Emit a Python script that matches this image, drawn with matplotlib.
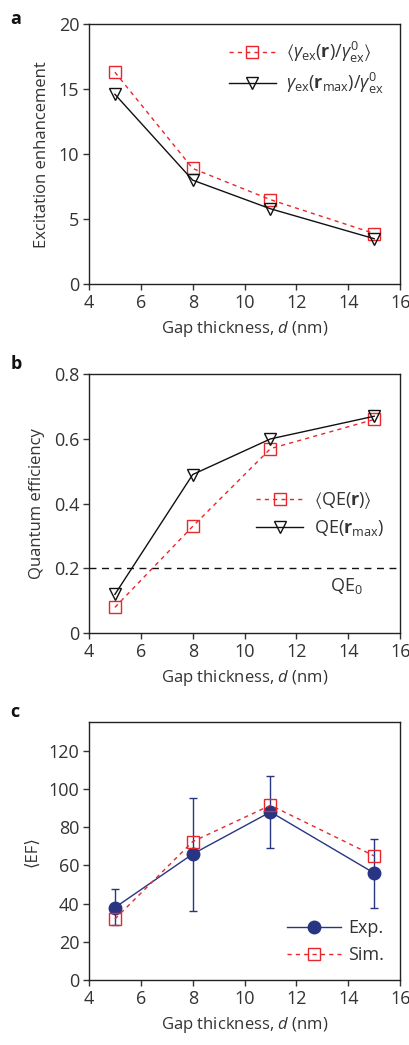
import numpy as np
import matplotlib
matplotlib.use('Agg')
import matplotlib.pyplot as plt
from matplotlib.lines import Line2D

plt.rcParams['font.family'] = ['Open Sans', 'DejaVu Sans']
plt.rcParams['mathtext.fontset'] = 'custom'
plt.rcParams['mathtext.rm'] = 'Open Sans'
plt.rcParams['mathtext.it'] = 'Open Sans:italic'
plt.rcParams['mathtext.bf'] = 'Open Sans:bold'
plt.rcParams['mathtext.sf'] = 'Open Sans'
plt.rcParams['mathtext.fallback'] = 'stixsans'

# data
gap = [5, 8, 11, 15]

exc_mean = [16.3, 8.9, 6.5, 3.9]
exc_max = [14.6, 8.0, 5.8, 3.5]

qe_mean = [0.08, 0.33, 0.57, 0.66]
qe_max = [0.12, 0.49, 0.60, 0.67]
qe0 = 0.2

ef_exp = [38, 66, 88, 56]
ef_lo = [29, 36, 69, 38]
ef_hi = [47.5, 95.5, 107, 74]
ef_sim = [32, 72.5, 91.5, 65]

red = '#e8262b'
blue = '#283583'
txt = '#333333'
blk = '#111111'
xlabel = 'Gap thickness, $\\mathit{d}$ (nm)'
lab_fs = 12
tick_fs = 13
leg_fs = 13

fig = plt.figure(figsize=(4.1, 10.45), dpi=100)
left, width = 0.217, 0.759
ax_a = fig.add_axes([left, 0.728, width, 0.249])
ax_b = fig.add_axes([left, 0.394, width, 0.248])
ax_c = fig.add_axes([left, 0.062, width, 0.247])


def style(ax):
    ax.set_xlim(4, 16)
    ax.set_xticks(np.arange(4, 17, 2))
    ax.tick_params(axis='both', direction='out', length=4, width=1, labelsize=tick_fs,
                   colors=txt, top=False, right=False, pad=3)
    for s in ax.spines.values():
        s.set_linewidth(1)
        s.set_color('#222222')
    ax.set_xlabel(xlabel, fontsize=lab_fs, color=txt, labelpad=5)


# panel a
ax_a.plot(gap, exc_mean, linestyle=(0, (3, 3)), color=red, lw=1, marker='s', ms=9, mfc='none', mec=red, mew=1,
          label='$\\langle$$\\gamma_{\\rm ex}$($\\mathbf{r}$)/$\\gamma^0_{\\rm ex}$$\\rangle$')
ax_a.plot(gap, exc_max, '-', color=blk, lw=1, marker='v', ms=9, mfc='none', mec=blk, mew=1,
          label='$\\gamma_{\\rm ex}$($\\mathbf{r}_{\\rm max}$)/$\\gamma^0_{\\rm ex}$')
ax_a.set_ylim(0, 20)
ax_a.set_yticks([0, 5, 10, 15, 20])
style(ax_a)
ax_a.set_ylabel('Excitation enhancement', fontsize=lab_fs, color=txt, labelpad=6)
ax_a.legend(loc='upper right', frameon=False, fontsize=leg_fs, handlelength=2.6,
            borderaxespad=0.5, labelspacing=0.3, handletextpad=0.6, labelcolor=txt)

# panel b
ax_b.axhline(qe0, color=blk, lw=1, ls=(0, (5, 4)))
ax_b.text(13.3, 0.13, 'QE$_0$', fontsize=leg_fs, color=txt)
ax_b.plot(gap, qe_mean, linestyle=(0, (3, 3)), color=red, lw=1, marker='s', ms=9, mfc='none', mec=red,
          mew=1, label='$\\langle$QE($\\mathbf{r}$)$\\rangle$')
ax_b.plot(gap, qe_max, '-', color=blk, lw=1, marker='v', ms=9, mfc='none', mec=blk, mew=1,
          label='QE($\\mathbf{r}_{\\rm max}$)')
ax_b.set_ylim(0, 0.8)
ax_b.set_yticks([0, 0.2, 0.4, 0.6, 0.8])
ax_b.set_yticklabels(['0', '0.2', '0.4', '0.6', '0.8'])
style(ax_b)
ax_b.set_ylabel('Quantum efficiency', fontsize=lab_fs, color=txt, labelpad=6)
ax_b.legend(loc='center right', bbox_to_anchor=(1.0, 0.46), frameon=False, fontsize=leg_fs,
            handlelength=2.6, labelspacing=0.4, handletextpad=0.6, labelcolor=txt)

# panel c
err = [np.array(ef_exp) - np.array(ef_lo), np.array(ef_hi) - np.array(ef_exp)]
ax_c.errorbar(gap, ef_exp, yerr=err, fmt='none', ecolor=blue, capsize=3, elinewidth=1, capthick=1,
              zorder=1)
ax_c.plot(gap, ef_exp, '-', color=blue, lw=1, marker='o', ms=9, mfc=blue, mec=blue, zorder=2)
ax_c.plot(gap, ef_sim, linestyle=(0, (3, 3)), color=red, lw=1, marker='s', ms=9, mfc='none', mec=red,
          mew=1, zorder=3)
ax_c.set_ylim(0, 135)
ax_c.set_yticks(np.arange(0, 121, 20))
style(ax_c)
ax_c.set_ylabel('⟨EF⟩', fontsize=lab_fs, color=txt, labelpad=6)
h_exp = Line2D([], [], color=blue, lw=1, marker='o', ms=9, mfc=blue, mec=blue)
h_sim = Line2D([], [], color=red, lw=1, linestyle=(0, (3, 3)), marker='s', ms=9, mfc='none', mec=red)
ax_c.legend([h_exp, h_sim], ['Exp.', 'Sim.'], loc='lower right', frameon=False, fontsize=leg_fs,
            handlelength=3.0, labelspacing=0.5, handletextpad=0.4, labelcolor=txt)

for lab, yy in [('a', 0.99), ('b', 0.66), ('c', 0.327)]:
    fig.text(0.025, yy, lab, fontsize=13, fontweight='bold', color=blk, va='top')

fig.savefig('out.png', dpi=100)
